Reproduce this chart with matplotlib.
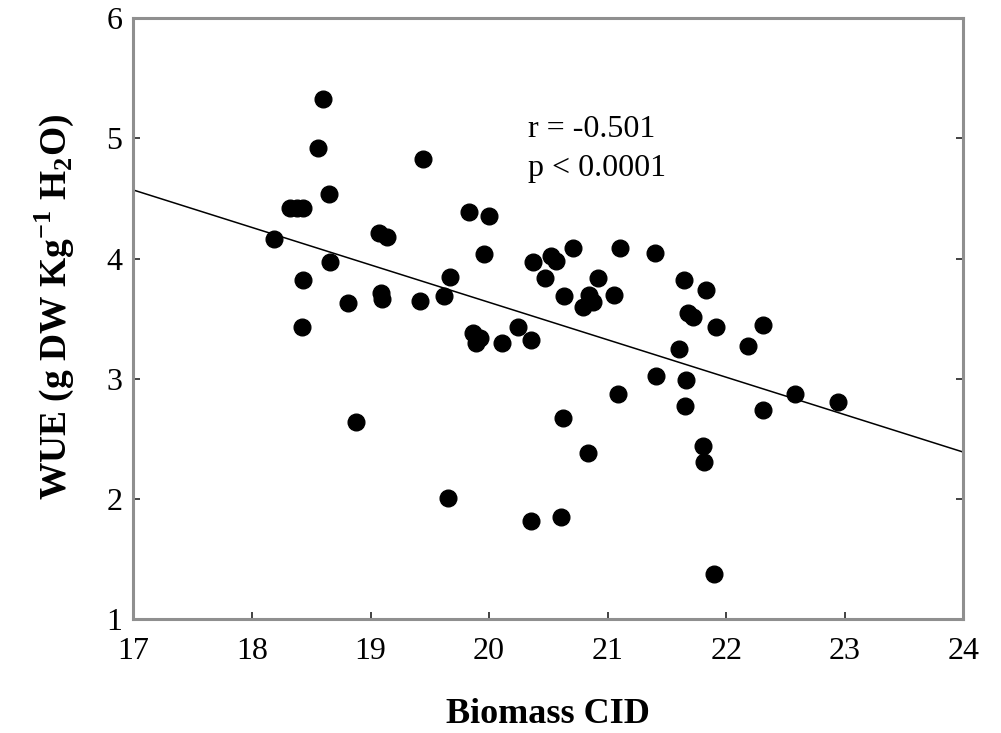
import numpy as np
import matplotlib
matplotlib.use("Agg")
import matplotlib.pyplot as plt

# Values
biomass_cid = [18.19, 18.32, 18.38, 18.43, 18.60, 18.56, 18.65, 18.66, 18.43, 18.42,
               18.81, 19.09, 19.10, 19.07, 19.14, 19.44, 19.42, 18.88, 19.65, 20.35,
               19.83, 20.00, 19.96, 19.67, 19.62, 20.37, 20.52, 20.56, 20.71, 20.47,
               21.10, 21.40, 20.92, 20.63, 20.84, 20.88, 20.79, 21.05, 21.64, 21.68,
               21.72, 21.60, 19.86, 19.92, 19.89, 20.11, 20.24, 20.35, 21.83, 21.91,
               22.31, 22.18, 21.41, 21.66, 21.09, 21.65, 22.31, 22.58, 22.94, 20.62,
               20.83, 21.80, 21.81, 20.61, 21.90]
wue = [4.16, 4.42, 4.42, 4.42, 5.33, 4.92, 4.54, 3.97, 3.82, 3.43,
       3.63, 3.71, 3.66, 4.21, 4.18, 4.83, 3.65, 2.64, 2.01, 1.82,
       4.39, 4.35, 4.04, 3.85, 3.69, 3.97, 4.02, 3.98, 4.09, 3.84,
       4.09, 4.05, 3.84, 3.69, 3.70, 3.64, 3.60, 3.70, 3.82, 3.55,
       3.51, 3.25, 3.38, 3.34, 3.30, 3.30, 3.43, 3.32, 3.74, 3.43,
       3.45, 3.27, 3.02, 2.99, 2.87, 2.77, 2.74, 2.87, 2.81, 2.67,
       2.38, 2.44, 2.31, 1.85, 1.38]

# regression line end points
fit_x = [17, 24]
fit_y = [4.57, 2.39]

stats_text = "r = -0.501\np < 0.0001"
x_ticks = [17, 18, 19, 20, 21, 22, 23, 24]
y_ticks = [1, 2, 3, 4, 5, 6]

plt.rcParams['font.family'] = ['Liberation Serif', 'DejaVu Serif']
plt.rcParams['mathtext.fontset'] = 'custom'
plt.rcParams['mathtext.rm'] = 'Liberation Serif'
plt.rcParams['mathtext.bf'] = 'Liberation Serif:bold'

fig = plt.figure(figsize=(10.01, 7.33), dpi=100)
ax = fig.add_axes([0.1332, 0.1551, 0.8293, 0.8203])

ax.plot(fit_x, fit_y, color='black', linewidth=1.1, zorder=2)
ax.plot(biomass_cid, wue, linestyle='none', marker='o', markersize=12,
        color='black', zorder=3)

ax.set_xlim(17, 24)
ax.set_ylim(1, 6)
ax.set_xticks(x_ticks)
ax.set_yticks(y_ticks)

for s in ax.spines.values():
    s.set_color('#8f8f8f')
    s.set_linewidth(2.2)

ax.tick_params(direction='in', length=5, width=1.2, color='#222222',
               labelsize=23, right=True, top=False)
ax.tick_params(axis='x', pad=13)
ax.tick_params(axis='y', pad=8)

ax.text(0.476, 0.838, stats_text, transform=ax.transAxes, fontsize=23,
        va='top', ha='left', linespacing=1.45)

ax.set_xlabel("Biomass CID", fontsize=26, fontweight='bold', labelpad=23)
ax.set_ylabel(r"WUE (g DW Kg$^{\mathbf{-1}}$ H$_{\mathbf{2}}$O)", fontsize=27,
              fontweight='bold', labelpad=22, y=0.52)

fig.savefig("out.png", dpi=100)
